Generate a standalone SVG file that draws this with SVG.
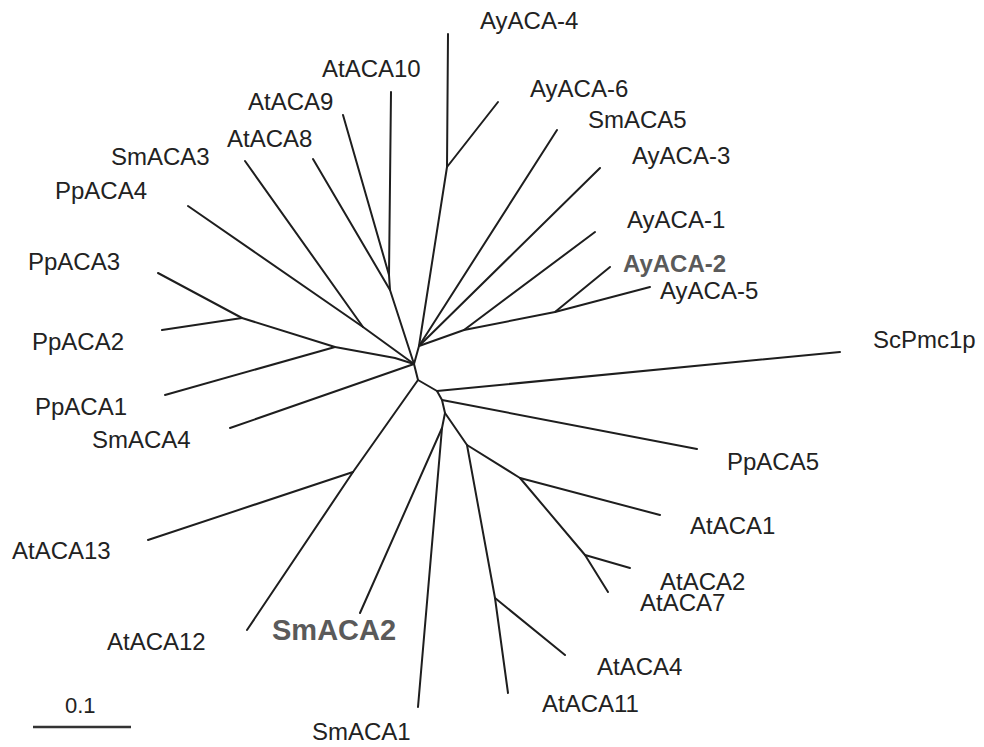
<svg xmlns="http://www.w3.org/2000/svg" width="984" height="747" viewBox="0 0 984 747">
  <style>
    .br { stroke: #1e1e1e; stroke-width: 2; fill: none; stroke-linecap: round; stroke-linejoin: round; }
    .lbl { font-family: "Liberation Sans", Arial, sans-serif; font-size: 24px; fill: #222; }
    .hl { font-weight: bold; fill: #5a5a5a; }
    .big { font-size: 29px; }
    .scale { stroke: #333; stroke-width: 2.5; }
  </style>
  <rect width="984" height="747" fill="#fff"/>

  <!-- branches of the unrooted tree -->
  <g id="branches" class="br">
    <!-- upper-right clade -->
    <polyline points="414,364 419,346 447,167 448,34"/>
    <line x1="447" y1="167" x2="498" y2="102"/>
    <line x1="419" y1="346" x2="557" y2="130"/>
    <line x1="419" y1="346" x2="600" y2="168"/>
    <polyline points="419,346 464,330 555,312 650,287"/>
    <line x1="464" y1="330" x2="595" y2="232"/>
    <line x1="555" y1="312" x2="610" y2="267"/>

    <!-- AtACA8/9/10 clade -->
    <polyline points="414,364 390,290 389,275 391,92"/>
    <line x1="389" y1="275" x2="343" y2="115"/>
    <line x1="390" y1="290" x2="313" y2="159"/>

    <!-- SmACA3 / PpACA4 -->
    <polyline points="414,364 363,327 245,161"/>
    <line x1="363" y1="327" x2="188" y2="206"/>

    <!-- PpACA1-3 clade -->
    <polyline points="414,364 395,358 335,347 242,318 158,273"/>
    <line x1="242" y1="318" x2="162" y2="330"/>
    <line x1="335" y1="347" x2="165" y2="395"/>

    <!-- SmACA4 -->
    <line x1="414" y1="364" x2="230" y2="428"/>

    <!-- AtACA12/13 clade -->
    <polyline points="414,364 418,380 353,472 247,630"/>
    <line x1="353" y1="472" x2="148" y2="540"/>

    <!-- lower-right part -->
    <polyline points="418,380 437,391 442,400 445,413 442,428 418,707"/>
    <line x1="437" y1="391" x2="840" y2="352"/>
    <line x1="442" y1="400" x2="697" y2="449"/>
    <line x1="442" y1="428" x2="360" y2="613"/>
    <polyline points="445,413 467,445 520,478 660,515"/>
    <polyline points="520,478 585,555 608,592"/>
    <line x1="585" y1="555" x2="630" y2="568"/>
    <polyline points="467,445 495,598 508,693"/>
    <line x1="495" y1="598" x2="565" y2="655"/>
  </g>

  <!-- leaf labels -->
  <g id="AyACA-4"><text class="lbl" x="480" y="29">AyACA-4</text></g>
  <g id="AyACA-6"><text class="lbl" x="530" y="97">AyACA-6</text></g>
  <g id="SmACA5"><text class="lbl" x="588" y="128">SmACA5</text></g>
  <g id="AyACA-3"><text class="lbl" x="632" y="164">AyACA-3</text></g>
  <g id="AyACA-1"><text class="lbl" x="627" y="228">AyACA-1</text></g>
  <g id="AyACA-2"><text class="lbl hl" x="623" y="272">AyACA-2</text></g>
  <g id="AyACA-5"><text class="lbl" x="660" y="299">AyACA-5</text></g>
  <g id="ScPmc1p"><text class="lbl" x="873" y="348">ScPmc1p</text></g>
  <g id="PpACA5"><text class="lbl" x="727" y="470">PpACA5</text></g>
  <g id="AtACA1"><text class="lbl" x="690" y="534">AtACA1</text></g>
  <g id="AtACA2"><text class="lbl" x="660" y="590">AtACA2</text></g>
  <g id="AtACA7"><text class="lbl" x="640" y="611">AtACA7</text></g>
  <g id="AtACA4"><text class="lbl" x="597" y="675">AtACA4</text></g>
  <g id="AtACA11"><text class="lbl" x="542" y="712">AtACA11</text></g>
  <g id="SmACA1"><text class="lbl" x="312" y="740">SmACA1</text></g>
  <g id="SmACA2"><text class="lbl hl big" x="272" y="640">SmACA2</text></g>
  <g id="AtACA12"><text class="lbl" x="107" y="650">AtACA12</text></g>
  <g id="AtACA13"><text class="lbl" x="12" y="559">AtACA13</text></g>
  <g id="SmACA4"><text class="lbl" x="92" y="448">SmACA4</text></g>
  <g id="PpACA1"><text class="lbl" x="35" y="415">PpACA1</text></g>
  <g id="PpACA2"><text class="lbl" x="32" y="350">PpACA2</text></g>
  <g id="PpACA3"><text class="lbl" x="28" y="270">PpACA3</text></g>
  <g id="PpACA4"><text class="lbl" x="55" y="199">PpACA4</text></g>
  <g id="SmACA3"><text class="lbl" x="111" y="165">SmACA3</text></g>
  <g id="AtACA8"><text class="lbl" x="227" y="147">AtACA8</text></g>
  <g id="AtACA9"><text class="lbl" x="248" y="110">AtACA9</text></g>
  <g id="AtACA10"><text class="lbl" x="322" y="77">AtACA10</text></g>

  <!-- scale bar -->
  <g id="scale-bar">
    <line class="scale" x1="33" y1="727" x2="131" y2="727"/>
    <text class="lbl" x="65" y="713" style="font-size:22px">0.1</text>
  </g>
</svg>
